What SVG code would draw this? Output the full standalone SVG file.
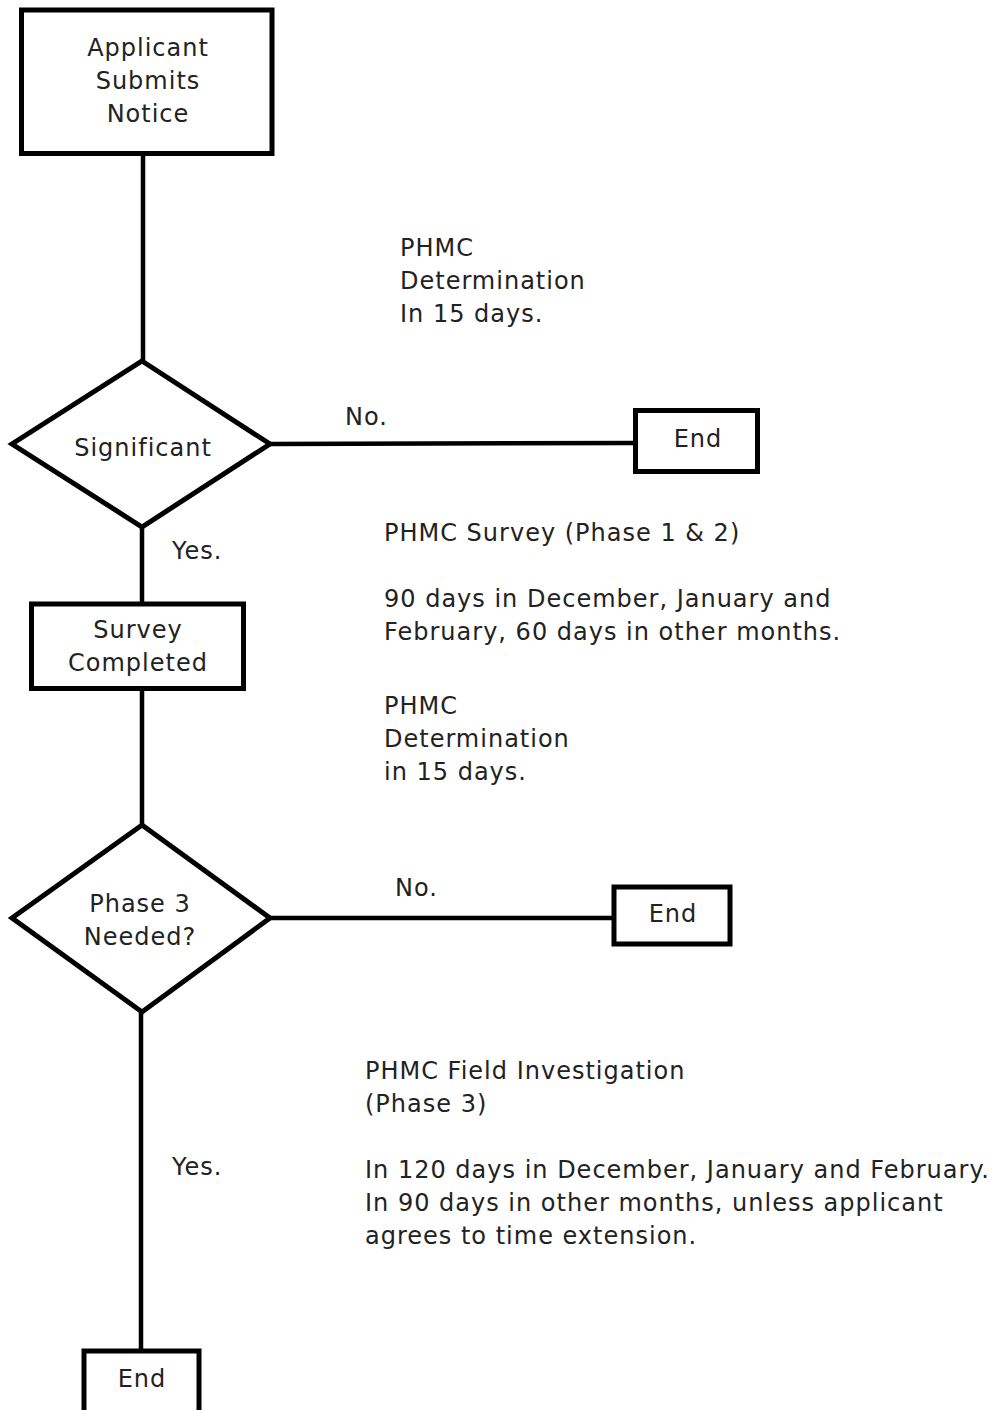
<svg xmlns="http://www.w3.org/2000/svg" width="999" height="1410" viewBox="0 0 999 1410">
<style>
text{font-family:"DejaVu Sans","Liberation Sans",sans-serif;font-size:24px;fill:#222;letter-spacing:1px}
.c{text-anchor:middle}
.n{fill:#fff;stroke:#000;stroke-width:5}
.e{stroke:#000;stroke-width:4.5;fill:none}
</style>
<rect width="999" height="1410" fill="#fff"/>
<g id="connectors">
<line class="e" x1="143" y1="153" x2="143" y2="361"/>
<line class="e" x1="270" y1="444" x2="635" y2="443"/>
<line class="e" x1="142" y1="527" x2="142" y2="604"/>
<line class="e" x1="142" y1="688" x2="142" y2="825"/>
<line class="e" x1="270" y1="918" x2="614" y2="918"/>
<line class="e" x1="141" y1="1012" x2="141" y2="1351"/>
<text x="345" y="425">No.</text>
<text x="172" y="559">Yes.</text>
<text x="395" y="896">No.</text>
<text x="172" y="1175">Yes.</text>
</g>
<g id="n1">
<rect class="n" x="21.5" y="10" width="250.5" height="143.5"/>
<text class="c" x="148" y="56">Applicant</text>
<text class="c" x="148" y="89">Submits</text>
<text class="c" x="148" y="122">Notice</text>
</g>
<g id="n2">
<polygon class="n" points="142,361 270,444 142,527 12,444"/>
<text class="c" x="143" y="456">Significant</text>
</g>
<g id="n3">
<rect class="n" x="635.5" y="410.5" width="122" height="61"/>
<text class="c" x="698" y="447">End</text>
</g>
<g id="n4">
<rect class="n" x="31.5" y="604" width="212" height="84.5"/>
<text class="c" x="138" y="638">Survey</text>
<text class="c" x="138" y="671">Completed</text>
</g>
<g id="n5">
<polygon class="n" points="142,825 270,918 142,1012 12,918"/>
<text class="c" x="140" y="912">Phase 3</text>
<text class="c" x="140" y="945">Needed?</text>
</g>
<g id="n6">
<rect class="n" x="614" y="887" width="116" height="57"/>
<text class="c" x="673" y="922">End</text>
</g>
<g id="n7">
<rect class="n" x="84" y="1351" width="115" height="62"/>
<text class="c" x="142" y="1387">End</text>
</g>
<g id="notes">
<text x="400" y="256">PHMC</text>
<text x="400" y="289">Determination</text>
<text x="400" y="322">In 15 days.</text>
<text x="384" y="541">PHMC Survey (Phase 1 &amp; 2)</text>
<text x="384" y="607">90 days in December, January and</text>
<text x="384" y="640">February, 60 days in other months.</text>
<text x="384" y="714">PHMC</text>
<text x="384" y="747">Determination</text>
<text x="384" y="780">in 15 days.</text>
<text x="365" y="1079">PHMC Field Investigation</text>
<text x="365" y="1112">(Phase 3)</text>
<text x="365" y="1178">In 120 days in December, January and February.</text>
<text x="365" y="1211">In 90 days in other months, unless applicant</text>
<text x="365" y="1244">agrees to time extension.</text>
</g>
</svg>
